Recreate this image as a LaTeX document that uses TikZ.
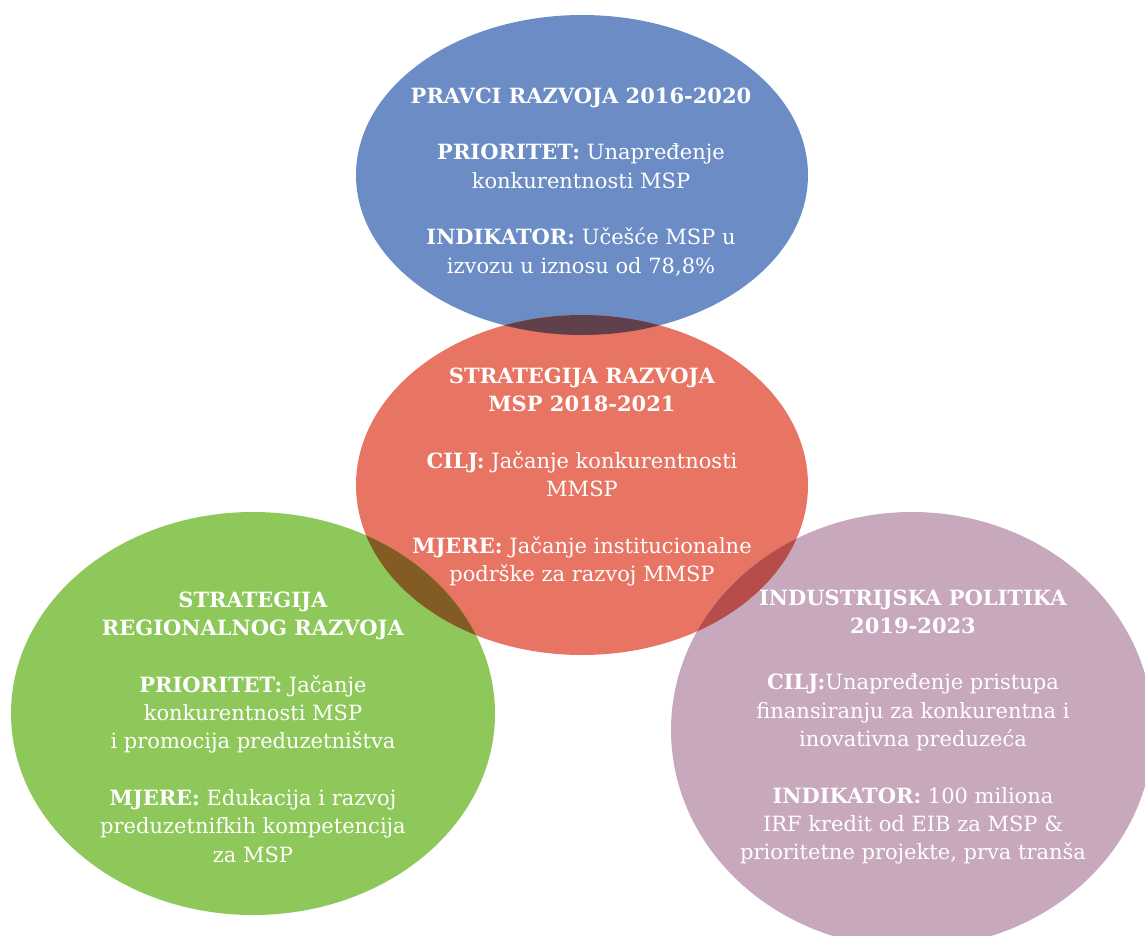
\documentclass[tikz,border=0pt]{standalone}
\usepackage{fontspec}
\setmainfont{DejaVu Serif}
\definecolor{cblue}{RGB}{107,140,196}
\definecolor{cred}{RGB}{232,117,99}
\definecolor{cgreen}{RGB}{143,200,90}
\definecolor{cpurple}{RGB}{200,168,188}
\definecolor{cbluered}{RGB}{96,64,75}
\definecolor{cgreenred}{RGB}{130,92,35}
\definecolor{credpurple}{RGB}{182,77,74}
\tikzset{
  txt/.style={text=white, align=center, inner sep=0pt,
    font=\fontsize{21}{28.4}\selectfont},
}
\newcommand{\pgap}{\\[28pt]}
\begin{document}
\begin{tikzpicture}[x=1pt,y=-1pt]
\useasboundingbox (0,0) rectangle (1145,935);
\clip (0,0) rectangle (1145,935);
% ellipses
\fill[cblue] (582,175) ellipse [x radius=226, y radius=160];
\fill[cred] (582,485) ellipse [x radius=226, y radius=170];
\fill[cgreen] (253,713.5) ellipse [x radius=242, y radius=201.5];
\fill[cpurple] (912,730) ellipse [x radius=241, y radius=218];
% overlaps
\begin{scope}
  \clip (582,485) ellipse [x radius=226, y radius=170];
  \fill[cbluered] (582,175) ellipse [x radius=226, y radius=160];
  \fill[cgreenred] (253,713.5) ellipse [x radius=242, y radius=201.5];
  \fill[credpurple] (912,730) ellipse [x radius=241, y radius=218];
\end{scope}
% texts
\node[txt] (tblue) at (581,182) {\textbf{PRAVCI RAZVOJA 2016-2020}\pgap
\textbf{PRIORITET:} Unapređenje\\konkurentnosti MSP\pgap
\textbf{INDIKATOR:} Učešće MSP u\\izvozu u iznosu od 78,8\%};
\node[txt] (tred) at (582,477) {\textbf{STRATEGIJA RAZVOJA}\\\textbf{MSP 2018-2021}\pgap
\textbf{CILJ:} Jačanje konkurentnosti\\MMSP\pgap
\textbf{MJERE:} Jačanje institucionalne\\podrške za razvoj MMSP};
\node[txt] (tgreen) at (253,727) {\textbf{STRATEGIJA}\\\textbf{REGIONALNOG RAZVOJA}\pgap
\textbf{PRIORITET:} Jačanje\\konkurentnosti MSP\\i promocija preduzetništva\pgap
\textbf{MJERE:} Edukacija i razvoj\\preduzetnifkih kompetencija\\za MSP};
\node[txt] (tpurple) at (913,727) {\textbf{INDUSTRIJSKA POLITIKA}\\\textbf{2019-2023}\pgap
\textbf{CILJ:}Unapređenje pristupa\\finansiranju za konkurentna i\\inovativna preduzeća\pgap
\textbf{INDIKATOR:} 100 miliona\\IRF kredit od EIB za MSP \&\\prioritetne projekte, prva tranša};
\end{tikzpicture}
\end{document}
